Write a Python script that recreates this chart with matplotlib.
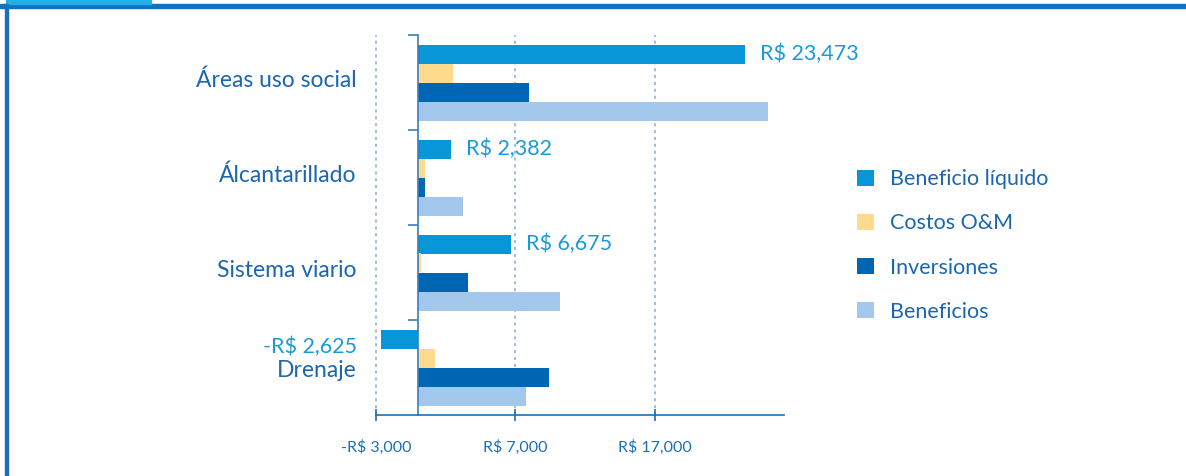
import numpy as np
import matplotlib.pyplot as plt
from matplotlib.patches import Rectangle

plt.rcParams['font.family'] = ['Lato', 'DejaVu Sans']

categories = ['Áreas uso social', 'Álcantarillado', 'Sistema viario', 'Drenaje']
series = ['Beneficio líquido', 'Costos O&M', 'Inversiones', 'Beneficios']
beneficio_liquido = [23473, 2382, 6675, -2625]
costos_om = [2500, 500, 250, 1200]
inversiones = [7950, 500, 3580, 9430]
beneficios = [25100, 3250, 10200, 7750]
value_labels = ['R$ 23,473', 'R$ 2,382', 'R$ 6,675', '-R$ 2,625']
xticks = [-3000, 7000, 17000]
xticklabels = ['-R$ 3,000', 'R$ 7,000', 'R$ 17,000']

colors = ['#0796d8', '#fedb8c', '#0066b3', '#a3c8ec']
txt_dark = '#1a66b0'
txt_light = '#1b9ad8'

fig = plt.figure(figsize=(11.86, 4.76), dpi=100)
ax = fig.add_axes([376 / 1186, 61 / 476, 408 / 1186, 380 / 476])

y = np.arange(len(categories))
h = 0.2
data = [beneficio_liquido, costos_om, inversiones, beneficios]
for i, (vals, c, name) in enumerate(zip(data, colors, series)):
    ax.barh(y + (i - 1.5) * h, vals, height=h, color=c, label=name)

ax.set_xlim(-3000, 26260)
ax.set_ylim(3.5, -0.5)

# value labels for the net benefit
for yi, v, lab in zip(y, beneficio_liquido, value_labels):
    if v >= 0:
        ax.annotate(lab, (v, yi - 1.5 * h), xytext=(11, 0), textcoords='offset points',
                    ha='left', va='center', color=txt_light, fontsize=15.5)
    else:
        ax.annotate(lab, (-3000, yi - 0.22), xytext=(-14, 0), textcoords='offset points',
                    ha='right', va='center', color=txt_light, fontsize=15.5)

# category labels
for yi, cat in zip(y, categories):
    dy = 0.03 if yi == 3 else -0.02
    ax.annotate(cat, (-3000, yi + dy), xytext=(-14, 0), textcoords='offset points',
                ha='right', va='center', color=txt_dark, fontsize=16.5)

ax.set_yticks([])
ax.set_yticks([-0.5, 0.5, 1.5, 2.5], minor=True)
ax.tick_params(axis='y', which='minor', length=7, width=1.2, color='#3b7cc0', direction='out')

ax.set_xticks(xticks)
ax.set_xticklabels(xticklabels)
ax.tick_params(axis='x', length=8, width=1.2, direction='inout', color='#1a6fb8',
               labelcolor='#1a6fb8', labelsize=11.5, pad=14)

for g in xticks:
    ax.axvline(g, color='#86a9dc', lw=1.1, ls=(0, (2, 2.5)), zorder=0, clip_on=False)

for s in ['top', 'right']:
    ax.spines[s].set_visible(False)
ax.spines['left'].set_position(('data', 0))
ax.spines['left'].set_color('#3b7cc0')
ax.spines['left'].set_linewidth(1.2)
ax.spines['bottom'].set_color('#1a6fb8')
ax.spines['bottom'].set_linewidth(1.2)

leg = fig.legend(loc='upper left', bbox_to_anchor=(838 / 1186, 1 - 150 / 476), frameon=False,
                 fontsize=15.5, handlelength=0.75, handleheight=0.75, labelspacing=1.12,
                 handletextpad=0.75)
for t in leg.get_texts():
    t.set_color(txt_dark)

# page frame
fig.patches.append(Rectangle((0, 1 - 7.5 / 476), 1, 3.5 / 476, transform=fig.transFigure,
                             color='#1570bf', zorder=5))
fig.patches.append(Rectangle((6 / 1186, 1 - 4 / 476), 145 / 1186, 4 / 476, transform=fig.transFigure,
                             color='#21b1e8', zorder=5))
fig.patches.append(Rectangle((4.5 / 1186, 0), 3 / 1186, 1 - 4 / 476, transform=fig.transFigure,
                             color='#1a6fbf', zorder=5))

fig.savefig('out.png', dpi=100)
